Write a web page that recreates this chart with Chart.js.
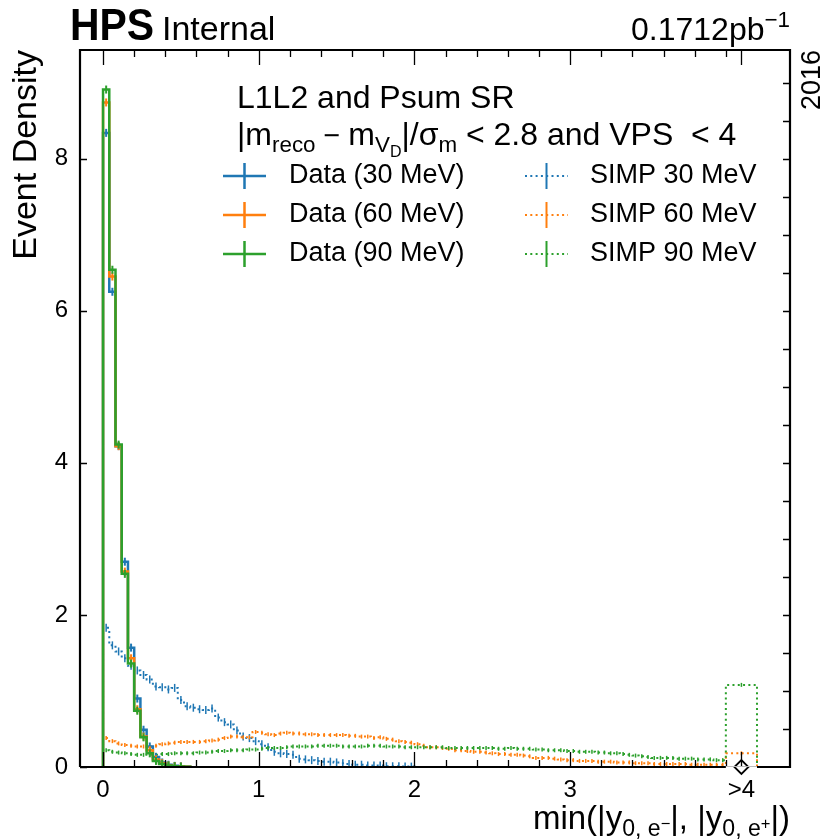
<!DOCTYPE html>
<html>
<head>
<meta charset="utf-8">
<script src="https://cdn.jsdelivr.net/npm/chart.js@4.4.1/dist/chart.umd.min.js"></script>
<style>
  body { margin: 0; background: #fff; }
</style>
</head>
<body>
<canvas id="chart" width="823" height="839"></canvas>
<script>
// bins of 0.04, SIMP histograms have one overflow bin [4.0, 4.2] shown as ">4"
const binWidth = 0.04;
const overflowEdge = 4.2;

const data30 = [8.34, 6.25, 4.22, 2.70, 1.57, 0.90, 0.49, 0.27, 0.13, 0.06, 0.03, 0.015, 0.008, 0.004];
const data60 = [8.74, 6.45, 4.22, 2.57, 1.43, 0.76, 0.40, 0.22, 0.10, 0.05, 0.02, 0.01, 0.005, 0.002];
const data90 = [8.91, 6.54, 4.24, 2.54, 1.36, 0.74, 0.39, 0.18, 0.08, 0.04, 0.02, 0.01, 0.005, 0.002];

const simp30 = [
  1.83, 1.60, 1.52, 1.43, 1.33, 1.27, 1.21, 1.15, 1.06, 1.05,
  1.02, 1.04, 0.88, 0.80, 0.78, 0.76, 0.75, 0.77, 0.65, 0.59,
  0.56, 0.48, 0.40, 0.38, 0.34, 0.30, 0.26, 0.20, 0.18, 0.17,
  0.16, 0.11, 0.10, 0.09, 0.08, 0.07, 0.07, 0.06, 0.05, 0.04,
  0.03, 0.03, 0.02, 0.02, 0.02, 0.01, 0.01, 0.01, 0.005, 0.005,
  0, 0, 0, 0, 0, 0, 0, 0, 0, 0,
  0, 0, 0, 0, 0, 0, 0, 0, 0, 0,
  0, 0, 0, 0, 0, 0, 0, 0, 0, 0,
  0, 0, 0, 0, 0, 0, 0, 0, 0, 0,
  0, 0, 0, 0, 0, 0, 0, 0, 0, 0
];
const simp60 = [
  0.38, 0.34, 0.31, 0.29, 0.28, 0.27, 0.27, 0.27, 0.28, 0.30,
  0.31, 0.32, 0.33, 0.33, 0.33, 0.33, 0.34, 0.35, 0.36, 0.38,
  0.40, 0.40, 0.39, 0.39, 0.46, 0.45, 0.43, 0.42, 0.44, 0.45,
  0.44, 0.44, 0.43, 0.43, 0.42, 0.42, 0.42, 0.42, 0.42, 0.41,
  0.41, 0.40, 0.40, 0.38, 0.39, 0.37, 0.36, 0.34, 0.33, 0.32,
  0.30, 0.28, 0.26, 0.26, 0.25, 0.24, 0.22, 0.22, 0.21, 0.20,
  0.20, 0.19, 0.18, 0.17, 0.17, 0.16, 0.16, 0.15, 0.14, 0.12,
  0.12, 0.12, 0.11, 0.10, 0.09, 0.09, 0.08, 0.08, 0.08, 0.07,
  0.07, 0.07, 0.06, 0.06, 0.06, 0.05, 0.05, 0.05, 0.04, 0.04,
  0.04, 0.04, 0.04, 0.04, 0.03, 0.03, 0.03, 0.03, 0.03, 0.03
];
const simp90 = [
  0.22, 0.20, 0.19, 0.18, 0.17, 0.16, 0.16, 0.16, 0.16, 0.17,
  0.17, 0.18, 0.18, 0.18, 0.18, 0.19, 0.19, 0.20, 0.21, 0.21,
  0.22, 0.22, 0.22, 0.23, 0.23, 0.24, 0.25, 0.25, 0.25, 0.26,
  0.27, 0.27, 0.27, 0.27, 0.28, 0.28, 0.28, 0.28, 0.27, 0.27,
  0.27, 0.27, 0.28, 0.28, 0.28, 0.27, 0.27, 0.27, 0.26, 0.26,
  0.26, 0.26, 0.26, 0.26, 0.26, 0.25, 0.25, 0.25, 0.25, 0.25,
  0.25, 0.25, 0.25, 0.24, 0.24, 0.25, 0.24, 0.24, 0.24, 0.23,
  0.23, 0.22, 0.22, 0.22, 0.21, 0.21, 0.20, 0.20, 0.20, 0.19,
  0.19, 0.18, 0.18, 0.17, 0.16, 0.15, 0.14, 0.13, 0.12, 0.12,
  0.12, 0.12, 0.11, 0.11, 0.11, 0.10, 0.10, 0.10, 0.09, 0.09
];
const simp30Overflow = 0;
const simp60Overflow = 0.18;
const simp90Overflow = 1.08;

const xTickValues = [0, 1, 2, 3, 4.1];
const xTickLabels = ['0', '1', '2', '3', '>4'];
const yTickValues = [0, 2, 4, 6, 8];
const dataLabels = ['Data (30 MeV)', 'Data (60 MeV)', 'Data (90 MeV)'];
const simpLabels = ['SIMP 30 MeV', 'SIMP 60 MeV', 'SIMP 90 MeV'];
const colors = ['#1f77b4', '#ff7f0e', '#2ca02c'];
const FONT = '"Liberation Sans", Arial, sans-serif';

function makeEdges(n, withOverflow) {
  const e = [];
  for (let i = 0; i <= n; i++) e.push(Math.round(i * binWidth * 1000) / 1000);
  if (withOverflow) e.push(overflowEdge);
  return e;
}

// histogram outline: vertical edge at both ends, flat tops
function stepPoints(values, edges) {
  const pts = [{ x: edges[0], y: 0 }];
  values.forEach((v, i) => {
    pts.push({ x: edges[i], y: v });
    pts.push({ x: edges[i + 1], y: v });
  });
  pts.push({ x: edges[values.length], y: 0 });
  return pts;
}

function centerPoints(values, edges) {
  return values
    .map((v, i) => ({ x: (edges[i] + edges[i + 1]) / 2, y: v }))
    .filter(p => p.y > 0.004);
}

const dataSets = [data30, data60, data90];
const simpSets = [simp30.concat([simp30Overflow]), simp60.concat([simp60Overflow]), simp90.concat([simp90Overflow])];

const datasets = [];
dataSets.forEach((vals, k) => {
  const edges = makeEdges(vals.length, false);
  datasets.push({
    data: stepPoints(vals, edges), borderColor: colors[k], borderWidth: 2.5,
    pointRadius: 0, fill: false, tension: 0, order: 10 - k
  });
  datasets.push({
    data: centerPoints(vals, edges), showLine: false, pointStyle: 'line', rotation: 90,
    pointRadius: 4, pointBorderWidth: 2, pointBorderColor: colors[k], borderColor: colors[k], order: 10 - k
  });
});
simpSets.forEach((vals, k) => {
  const edges = makeEdges(vals.length - 1, true);
  datasets.push({
    data: stepPoints(vals, edges), borderColor: colors[k], borderWidth: 2,
    borderDash: [2, 3.3], pointRadius: 0, fill: false, tension: 0, order: 20 - k
  });
  datasets.push({
    data: centerPoints(vals, edges), showLine: false, pointStyle: 'line', rotation: 90,
    pointRadius: k === 0 ? 4 : 2, pointBorderWidth: 1.5, pointBorderColor: colors[k], borderColor: colors[k], order: 20 - k
  });
});
// overflow marker
datasets.push({
  data: [{ x: xTickValues[4], y: 0 }], showLine: false, pointStyle: 'rectRot',
  pointRadius: 7, pointBorderWidth: 1.8, pointBorderColor: '#000', pointBackgroundColor: '#fff',
  clip: false, order: 0
});

// draw text with sub/superscripts: parts = [text, scale, dy (em)]
function richWidth(ctx, parts, size) {
  let w = 0;
  parts.forEach(p => { ctx.font = `${size * p[1]}px ${FONT}`; w += ctx.measureText(p[0]).width; });
  return w;
}
function drawRich(ctx, parts, x, y, size, align) {
  let cx = align === 'right' ? x - richWidth(ctx, parts, size) : x;
  parts.forEach(p => {
    ctx.font = `${size * p[1]}px ${FONT}`;
    ctx.fillText(p[0], cx, y + p[2] * size);
    cx += ctx.measureText(p[0]).width;
  });
}

const framePlugin = {
  id: 'frame',
  afterDatasetsDraw(chart) {
    const { ctx, chartArea: a, scales: { x, y } } = chart;
    ctx.save();
    ctx.strokeStyle = '#000';
    ctx.lineWidth = 1.3;
    ctx.beginPath();
    // minor ticks every 0.2 on bottom and top
    for (let k = 0; k <= 20; k++) {
      const v = k * 0.2;
      const px = Math.round(x.getPixelForValue(v)) + 0.5;
      const major = xTickValues.includes(Math.round(v * 10) / 10);
      const len = major ? 15 : 7;
      ctx.moveTo(px, a.bottom); ctx.lineTo(px, a.bottom - len);
      ctx.moveTo(px, a.top); ctx.lineTo(px, a.top + len);
    }
    const p41 = Math.round(x.getPixelForValue(xTickValues[4])) + 0.5;
    ctx.moveTo(p41, a.bottom); ctx.lineTo(p41, a.bottom - 15);
    ctx.moveTo(p41, a.top); ctx.lineTo(p41, a.top + 15);
    // left ticks at labels, right ticks every 0.5
    yTickValues.forEach(v => {
      const py = Math.round(y.getPixelForValue(v)) + 0.5;
      ctx.moveTo(a.left, py); ctx.lineTo(a.left + 7, py);
    });
    for (let k = 1; k <= 18; k++) {
      const py = Math.round(y.getPixelForValue(k * 0.5)) + 0.5;
      ctx.moveTo(a.right, py); ctx.lineTo(a.right - 7, py);
    }
    ctx.stroke();

    ctx.lineWidth = 2.2;
    ctx.beginPath();
    const o1 = x.getPixelForValue(4.0), o2 = x.getPixelForValue(overflowEdge);
    ctx.moveTo(a.left, a.bottom); ctx.lineTo(o1, a.bottom);
    ctx.moveTo(o2, a.bottom); ctx.lineTo(a.right, a.bottom);
    ctx.lineTo(a.right, a.top); ctx.lineTo(a.left, a.top); ctx.lineTo(a.left, a.bottom);
    ctx.stroke();
    ctx.strokeStyle = '#bbb';
    ctx.lineWidth = 1;
    ctx.beginPath();
    ctx.moveTo(o1, a.bottom - 0.5); ctx.lineTo(o2, a.bottom - 0.5);
    ctx.stroke();
    ctx.restore();
  }
};

const textPlugin = {
  id: 'texts',
  afterDraw(chart) {
    const { ctx, chartArea: a } = chart;
    ctx.save();
    ctx.fillStyle = '#000';
    ctx.textBaseline = 'alphabetic';
    ctx.textAlign = 'left';

    // header
    ctx.save();
    ctx.translate(70, 40);
    ctx.scale(0.93, 1);
    ctx.font = `bold 44px ${FONT}`;
    ctx.fillText('HPS', 0, 0);
    ctx.restore();
    ctx.font = `34px ${FONT}`;
    ctx.fillText('Internal', 162, 40);
    drawRich(ctx, [['0.1712pb', 1, 0], ['\u22121', 0.7, -0.42]], a.right, 40, 32, 'right');

    // year, rotated on the right
    ctx.save();
    ctx.translate(a.right + 9, a.top);
    ctx.rotate(-Math.PI / 2);
    ctx.textAlign = 'right';
    ctx.textBaseline = 'top';
    ctx.font = `27px ${FONT}`;
    ctx.fillText('2016', 0, 0);
    ctx.restore();

    // axis titles
    ctx.save();
    ctx.translate(10, a.top);
    ctx.rotate(-Math.PI / 2);
    ctx.textAlign = 'right';
    ctx.textBaseline = 'top';
    ctx.font = `34px ${FONT}`;
    ctx.fillText('Event Density', 0, 0);
    ctx.restore();

    drawRich(ctx, [
      ['min(|y', 1, 0], ['0, e', 0.7, 0.22], ['\u2212', 0.5, 0.0],
      ['|, |y', 1, 0], ['0, e', 0.7, 0.22], ['+', 0.5, 0.0], ['|)', 1, 0]
    ], a.right, 829, 33, 'right');

    // region annotation
    ctx.font = `32px ${FONT}`;
    ctx.fillText('L1L2 and Psum SR', 237, 108);
    drawRich(ctx, [
      ['|m', 1, 0], ['reco', 0.7, 0.22], [' \u2212 ', 0.9, 0], ['m', 1, 0], ['V', 0.7, 0.22], ['D', 0.5, 0.38],
      ['|/\u03c3', 1, 0], ['m', 0.7, 0.22], [' < 2.8 and VPS  < 4', 1, 0]
    ], 237, 145, 32, 'left');

    // legend, two columns
    const rows = [176, 215, 254];
    ctx.textBaseline = 'middle';
    ctx.font = `27px ${FONT}`;
    rows.forEach((ry, k) => {
      ctx.strokeStyle = colors[k];
      ctx.setLineDash([]);
      ctx.lineWidth = 2.5;
      ctx.beginPath();
      ctx.moveTo(223, ry); ctx.lineTo(266, ry);
      ctx.moveTo(244.5, ry - 13); ctx.lineTo(244.5, ry + 13);
      ctx.stroke();
      ctx.fillText(dataLabels[k], 289, ry);

      ctx.lineWidth = 2;
      ctx.setLineDash([2, 3.3]);
      ctx.beginPath();
      ctx.moveTo(525, ry); ctx.lineTo(568, ry);
      ctx.stroke();
      ctx.setLineDash([]);
      ctx.beginPath();
      ctx.moveTo(546.5, ry - 13); ctx.lineTo(546.5, ry + 13);
      ctx.stroke();
      ctx.fillText(simpLabels[k], 590, ry);
    });
    ctx.restore();
  }
};

new Chart(document.getElementById('chart'), {
  type: 'line',
  data: { datasets },
  options: {
    responsive: false,
    animation: false,
    layout: { padding: { left: 0, top: 50, right: 33, bottom: 0 } },
    plugins: { legend: { display: false }, tooltip: { enabled: false } },
    scales: {
      x: {
        type: 'linear', min: -0.148, max: 4.412,
        grid: { display: false, drawTicks: false }, border: { display: false },
        afterBuildTicks: s => { s.ticks = xTickValues.map(v => ({ value: v })); },
        afterFit: s => { s.height = 72; },
        ticks: {
          autoSkip: false, maxRotation: 0, padding: 9, color: '#000',
          font: { family: FONT, size: 24 },
          callback: (v, i) => xTickLabels[i]
        }
      },
      y: {
        type: 'linear', min: 0, max: 9.43,
        grid: { display: false, drawTicks: false }, border: { display: false },
        afterBuildTicks: s => { s.ticks = yTickValues.map(v => ({ value: v })); },
        afterFit: s => { s.width = 80; },
        ticks: { padding: 12, color: '#000', font: { family: FONT, size: 24 } }
      }
    }
  },
  plugins: [framePlugin, textPlugin]
});
</script>
</body>
</html>
